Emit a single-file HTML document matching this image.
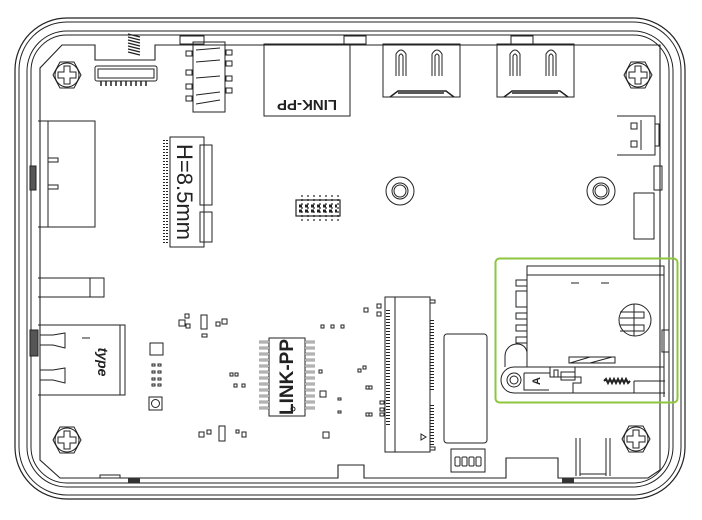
<!DOCTYPE html>
<html><head><meta charset="utf-8"><style>
html,body{margin:0;padding:0;background:#fff;}
svg{display:block;}
text{font-family:"Liberation Sans",sans-serif;}
</style></head><body>
<svg width="702" height="520" viewBox="0 0 702 520" xmlns="http://www.w3.org/2000/svg" fill="none" stroke="#222" stroke-width="1">
<!-- enclosure outlines -->
<rect x="15" y="18" width="670" height="481" rx="52" stroke-width="1.2"/>
<rect x="19" y="22" width="662" height="473" rx="48"/>
<rect x="27" y="31" width="646" height="456" rx="40"/>
<rect x="31" y="35" width="638" height="448" rx="36"/>
<!-- board outline -->
<path d="M62,45 L95,45 L95,60 L155,60 L155,45 L660,45 L660,470 L648,478 L558,478 L558,458 L506,458 L506,478 L364,478 L364,465 L338,465 L338,478 L60,478 L40,460 L40,68 Z" stroke-width="1.1"/>
<path d="M100,478 v-3 h20 v3"/>
<path d="M128,34 l12,3 M128,37 l12,3 M128,40 l12,3 M128,43 l12,3 M128,46 l12,3 M128,49 l12,3 M128,52 l12,3" stroke-width="1.3"/>
<rect x="128" y="478" width="12" height="5" fill="#333" stroke="none"/>
<rect x="562" y="478" width="12" height="5" fill="#333" stroke="none"/>
<rect x="180" y="36" width="24" height="8"/>
<rect x="344" y="36" width="22" height="8"/>
<rect x="511" y="36" width="22" height="8"/>
<!-- screws -->
<g id="s">
<polygon points="53,75 60,62 74,62 81,75 74,88 60,88"/>
<circle cx="67" cy="75" r="12"/>
<path d="M64,66 h6 v6 h6 v6 h-6 v6 h-6 v-6 h-6 v-6 h6 z"/>
</g>
<use href="#s" x="571" y="0"/>
<use href="#s" x="0" y="365"/>
<use href="#s" x="569" y="364"/>
<!-- FPC -->
<rect x="95" y="66" width="62" height="15" rx="2"/>
<rect x="98" y="69" width="56" height="9"/>
<path d="M101,81 v5 M106,81 v5 M111,81 v5 M116,81 v5 M121,81 v5 M126,81 v5 M131,81 v5 M136,81 v5 M141,81 v5 M146,81 v5" stroke-width="1.5"/>
<!-- audio -->
<rect x="193" y="42" width="32" height="70"/>
<path d="M196,50 L220,48 M196,62 L220,60 M196,78 L220,76 M196,95 L220,92 M196,104 L220,100"/>
<path d="M186,51h6v5h-6zM186,70h6v5h-6zM186,84h6v5h-6zM186,96h6v5h-6zM226,50h6v5h-6zM226,61h6v5h-6zM226,76h6v5h-6zM226,88h6v5h-6z"/>
<!-- RJ45 -->
<rect x="264" y="44" width="86" height="72"/>
<text x="307" y="95" font-size="15" font-weight="bold" text-anchor="middle" transform="rotate(180 307 95)" dy="-5" fill="#222" stroke="none">LINK-PP</text>
<!-- HDMI -->
<g id="h">
<rect x="383" y="44" width="77" height="53"/>
<path d="M396,76 v-22 q5,-8 10,0 v22 M399,76 v-20 q2,-4 4,0 v20 M432,76 v-22 q5,-8 10,0 v22 M435,76 v-20 q2,-4 4,0 v20"/>
<path d="M390,97 l8,-6 h48 l8,6 M398,93 h46" stroke-width="1.5"/>
</g>
<use href="#h" x="114" y="0"/>
<!-- right connector -->
<path d="M617,116 h38 v39 h-38 M641,120 v30 M655,124 h4 v22 h-4"/>
<rect x="631" y="123" width="6" height="6"/><rect x="631" y="141" width="6" height="6"/>
<!-- standoffs -->
<circle cx="400" cy="191" r="14"/><circle cx="400" cy="191" r="8"/><circle cx="400" cy="191" r="6"/>
<circle cx="601" cy="191" r="14"/><circle cx="601" cy="191" r="8"/><circle cx="601" cy="191" r="6"/>
<!-- left block -->
<path d="M38,121 H95 V227 H38 M48,121 V227 M48,158 h10 v4 h-10 M48,185 h10 v4 h-10"/>
<rect x="30" y="166" width="6" height="24" fill="#555"/>
<!-- M.2 left -->
<rect x="170" y="137" width="34" height="110"/>
<path d="M167,140 v104 M164,140 v104" stroke-dasharray="1,2" stroke-width="2"/>
<rect x="200" y="145" width="12" height="60"/><rect x="200" y="212" width="12" height="30"/>
<text x="185" y="192" font-size="22" text-anchor="middle" transform="rotate(90 185 192)" dy="8" fill="#222" stroke="none">H=8.5mm</text>
<!-- pin header -->
<g stroke-width="1.2">
<rect x="296" y="200" width="44" height="16"/>
<path d="M302,195v26M308,195v26M314,195v26M320,195v26M326,195v26M332,195v26M338,195v26" stroke-dasharray="2,2"/>
<path d="M299,206h38M299,211h38" stroke-dasharray="3,3" stroke-width="3" stroke="#222"/>
</g>
<!-- right small block -->
<rect x="634" y="193" width="20" height="46"/>
<rect x="654" y="166" width="8" height="24"/>
<!-- left tab -->
<path d="M38,278 H104 V297 H38 M90,278 V297"/>
<!-- USB -->
<path d="M38,325 H125 V395 H38 M120,325 V395"/>
<path d="M40,335 h13 l12,-2 v15 l-12,-3 h-13 z M40,370 h13 l12,-2 v15 l-12,-3 h-13 z"/>
<rect x="30" y="330" width="8" height="26" fill="#555"/>
<text x="98" y="362" font-size="14" font-style="italic" font-weight="bold" text-anchor="middle" transform="rotate(90 98 362)" fill="#222" stroke="none">type</text>
<path d="M82,338 h8"/>
<!-- misc small -->
<rect x="150" y="343" width="13" height="12"/>
<rect x="149" y="397" width="13" height="13"/><circle cx="155.5" cy="403.5" r="4"/>
<path d="M152,364h3v2h-3zM158,364h3v2h-3zM152,371h3v2h-3zM158,371h3v2h-3zM152,378h3v2h-3zM158,378h3v2h-3zM152,384h3v2h-3zM158,384h3v2h-3z"/>
<rect x="179" y="320" width="6" height="6"/><rect x="185" y="314" width="4" height="4"/><rect x="186" y="324" width="4" height="4"/>
<rect x="201" y="315" width="6" height="14"/><rect x="202" y="334" width="5" height="3"/>
<rect x="216" y="322" width="4" height="4"/><rect x="222" y="319" width="5" height="5"/>
<rect x="199" y="432" width="5" height="5"/><rect x="207" y="430" width="4" height="4"/>
<rect x="219" y="426" width="6" height="15"/><rect x="236" y="430" width="3" height="3"/><rect x="242" y="432" width="4" height="5"/>
<rect x="230" y="373" width="3" height="3"/><rect x="235" y="373" width="3" height="3"/><rect x="234" y="384" width="3" height="3"/><rect x="242" y="384" width="3" height="3"/>
<rect x="321" y="325" width="3" height="3"/><rect x="331" y="325" width="3" height="3"/><rect x="341" y="325" width="3" height="3"/>
<rect x="319" y="370" width="3" height="3"/><rect x="320" y="391" width="6" height="6"/><rect x="323" y="432" width="6" height="6"/>
<rect x="338" y="398" width="3" height="2"/><rect x="338" y="411" width="3" height="2"/>
<!-- chip -->
<rect x="269" y="338" width="36" height="78"/>
<path d="M259,342h10M259,348h10M259,354h10M259,360h10M259,366h10M259,372h10M259,378h10M259,384h10M259,390h10M259,396h10M259,402h10M259,408h10M305,342h10M305,348h10M305,354h10M305,360h10M305,366h10M305,372h10M305,378h10M305,384h10M305,390h10M305,396h10M305,402h10M305,408h10" stroke-width="2.5" stroke="#333"/>
<path d="M259,342h10M259,348h10M259,354h10M259,360h10M259,366h10M259,372h10M259,378h10M259,384h10M259,390h10M259,396h10M259,402h10M259,408h10M305,342h10M305,348h10M305,354h10M305,360h10M305,366h10M305,372h10M305,378h10M305,384h10M305,390h10M305,396h10M305,402h10M305,408h10" stroke-width="1.2" stroke="#fff"/>
<text x="287" y="377" font-size="19" font-weight="bold" text-anchor="middle" transform="rotate(-90 287 377)" dy="6" fill="#222" stroke="none">LINK-PP</text>
<circle cx="293" cy="409" r="2"/>
<!-- M.2 right -->
<rect x="385" y="297" width="45" height="155"/>
<rect x="385" y="297" width="10" height="155"/>
<path d="M388,310 v115 M432,320 v70 M432,405 v40" stroke-width="4" stroke-dasharray="1,2"/>
<rect x="430" y="300" width="5" height="3"/><rect x="430" y="447" width="5" height="3"/>
<path d="M421,434 l5,3 l-5,3 z"/>
<rect x="364" y="308" width="4" height="4"/><rect x="377" y="304" width="4" height="4"/><rect x="377" y="312" width="4" height="4"/>
<rect x="358" y="369" width="3" height="3"/><rect x="363" y="366" width="3" height="3"/><rect x="366" y="386" width="3" height="3"/><rect x="369" y="386" width="3" height="3"/>
<rect x="366" y="413" width="3" height="3"/><rect x="369" y="413" width="3" height="3"/><rect x="380" y="401" width="4" height="3"/><rect x="380" y="408" width="4" height="3"/><rect x="380" y="413" width="4" height="3"/>
<!-- rounded rect -->
<rect x="444" y="334" width="43" height="109" rx="3"/>
<rect x="451" y="449" width="34" height="23"/>
<rect x="455" y="457" width="5" height="9" rx="1"/><rect x="462" y="457" width="5" height="9" rx="1"/><rect x="469" y="457" width="5" height="9" rx="1"/><rect x="476" y="457" width="5" height="9" rx="1"/>
<!-- bottom right slot -->
<path d="M576,438 v38 M580,438 v38 M606,438 v38 M610,438 v38 M580,474 h26"/>
<!-- SD card -->
<rect x="527" y="266" width="137" height="9"/>
<rect x="527" y="275" width="137" height="92"/>
<path d="M516,280h11v6h-11zM516,291h11v16h-11zM516,313h11v6h-11zM516,325h11v6h-11zM516,337h11v6h-11z"/>
<circle cx="635" cy="320" r="16"/>
<path d="M620,312 h24 v6 h-24 M620,325 h24 v6 h-24 M634,304 v32"/>
<path d="M571,283 h8 M601,283 h8"/>
<path d="M569,357 h46 v6 h-46 z M590,357 l-20,6 M612,357 l-22,6"/>
<path d="M527,352 q-2,-8 -10,-8 a12,12 0 0 0 -12,12 v11"/>
<path d="M527,367 H514 a13,13 0 0 0 0,26 H665"/>
<circle cx="514" cy="380" r="7"/><circle cx="514" cy="380" r="4"/>
<path d="M524,373 h26 v4 M524,373 v17 h25"/>
<path d="M551,377 h30 v6 h-8 v10"/>
<rect x="550" y="367" width="25" height="10"/><rect x="554" y="370" width="4" height="7"/><rect x="561" y="372" width="14" height="8"/>
<text x="536" y="381" font-size="11" font-weight="bold" text-anchor="middle" transform="rotate(-90 536 381)" dy="4" fill="#222" stroke="none">A</text>
<path d="M604,381 l2,-2 l2,4 l2,-4 l2,4 l2,-4 l2,4 l2,-4 l2,4 l2,-4 l2,4 l2,-4 l2,4 l2,-2" stroke-width="2"/>
<path d="M634,381 h31 M634,381 v12 M664,367 v30"/>
<rect x="662" y="330" width="7" height="22"/>
<!-- green highlight -->
<rect x="495.5" y="258.5" width="182" height="144" rx="4" stroke="#8cc63f" stroke-width="2"/>
</svg>
</body></html>
